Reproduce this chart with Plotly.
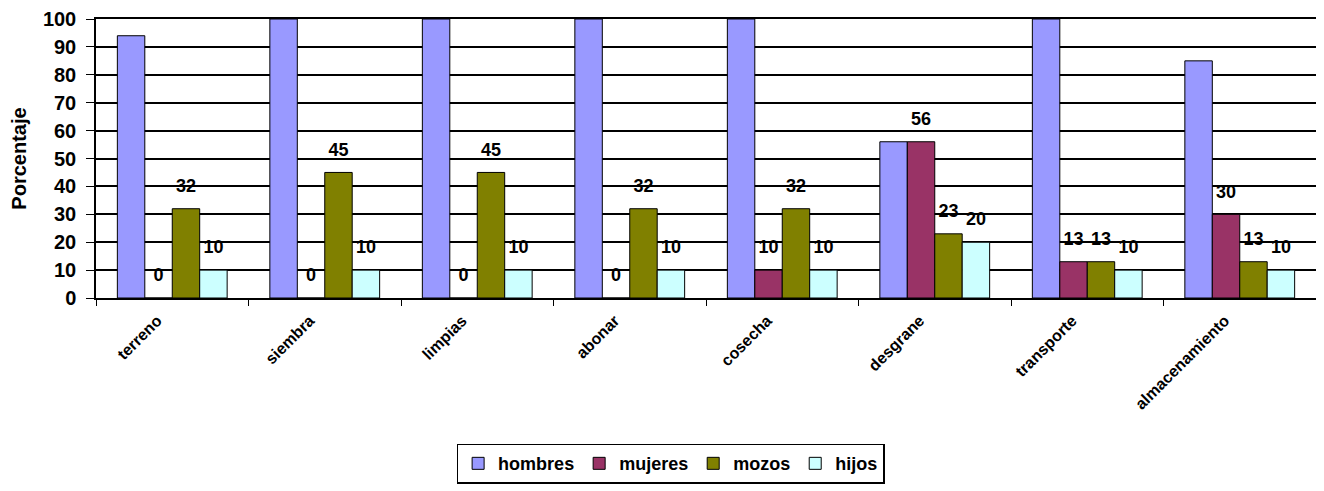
import plotly.graph_objects as go

# data
tareas = ["terreno", "siembra", "limpias", "abonar", "cosecha", "desgrane", "transporte", "almacenamiento"]
hombres = [94, 100, 100, 100, 100, 56, 100, 85]
mujeres = [0, 0, 0, 0, 10, 56, 13, 30]
mozos = [32, 45, 45, 32, 32, 23, 13, 13]
hijos = [10, 10, 10, 10, 10, 20, 10, 10]
y_ticks = [0, 10, 20, 30, 40, 50, 60, 70, 80, 90, 100]

series = [
    ("hombres", hombres, "#9999FF", False),
    ("mujeres", mujeres, "#993366", True),
    ("mozos", mozos, "#808000", True),
    ("hijos", hijos, "#CCFFFF", True),
]

BOLD = dict(family="Arial", color="#000", weight="bold")

fig = go.Figure()
for name, vals, color, _ in series:
    fig.add_trace(
        go.Bar(
            x=tareas,
            y=vals,
            name=name,
            marker=dict(color=color, line=dict(color="#000", width=1)),
            hoverinfo="x+y+name",
        )
    )

# value labels sit a bit above each bar, like Excel does
for name, vals, color, labelled in series:
    fig.add_trace(
        go.Scatter(
            x=tareas,
            y=vals,
            orientation="v",
            mode="markers+text",
            text=[str(v) for v in vals] if labelled else [""] * len(vals),
            textposition="top center",
            textfont=dict(size=18, **BOLD),
            marker=dict(size=18, color="rgba(0,0,0,0)"),
            cliponaxis=False,
            showlegend=False,
            hoverinfo="skip",
        )
    )

# page body has an 8px margin, so the figure is sized to the visible area
fig.update_layout(
    width=1316,
    height=483,
    barmode="group",
    bargap=0.28,
    bargroupgap=0,
    scattermode="group",
    scattergap=0.28,
    paper_bgcolor="#fff",
    plot_bgcolor="#fff",
    margin=dict(l=88, r=8, t=11, b=193),
    font=dict(family="Arial", color="#000"),
    legend=dict(
        orientation="h",
        x=0.471,
        xanchor="center",
        y=-0.522,
        yanchor="top",
        bordercolor="#000",
        borderwidth=1.5,
        font=dict(size=18, **BOLD),
        itemwidth=30,
        tracegroupgap=0,
    ),
    xaxis=dict(
        automargin=False,
        tickangle=-45,
        tickson="boundaries",
        ticks="outside",
        ticklen=6,
        tickcolor="#000",
        tickfont=dict(size=16, **BOLD),
        ticklabelstandoff=5,
        ticklabelshift=-15,
        showline=True,
        linecolor="#000",
        linewidth=2,
        mirror=True,
        showgrid=False,
    ),
    yaxis=dict(
        automargin=False,
        range=[0, 100],
        tickvals=y_ticks,
        ticks="outside",
        ticklen=8,
        tickcolor="#000",
        tickfont=dict(size=20, **BOLD),
        ticklabelstandoff=6,
        showline=True,
        linecolor="#000",
        linewidth=1.5,
        mirror=True,
        showgrid=True,
        gridcolor="#000",
        gridwidth=1.5,
        zeroline=False,
        title=dict(text="Porcentaje", font=dict(size=20, **BOLD), standoff=12),
    ),
)

fig.write_html("out.html")
